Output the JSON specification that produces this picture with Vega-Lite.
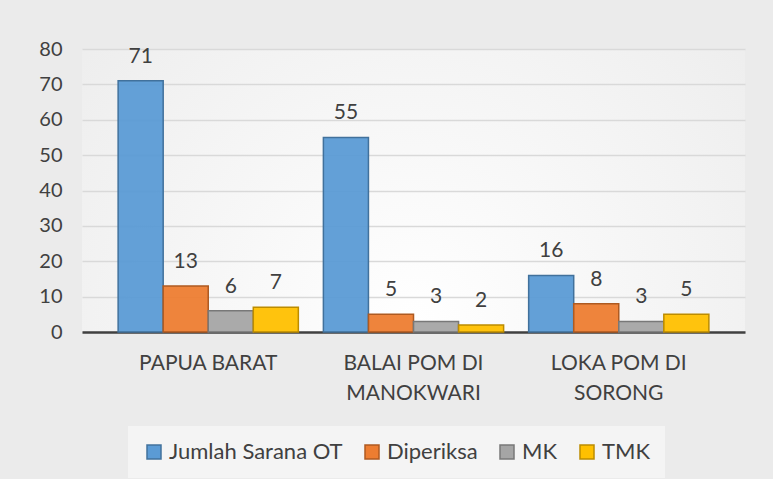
{
  "$schema": "https://vega.github.io/schema/vega-lite/v6.json",
  "autosize": "none",
  "width": 663,
  "height": 283,
  "padding": {"left": 82, "top": 49, "right": 28, "bottom": 147},
  "background": "#ebebeb",
  "config": {
    "font": "Lato",
    "view": {"stroke": null, "fill": {"gradient": "radial", "x1": 0.5, "y1": 0.7, "r1": 0, "x2": 0.5, "y2": 0.7, "r2": 0.75, "stops": [{"offset": 0, "color": "#ffffff"}, {"offset": 1, "color": "#ebebeb"}]}}
  },
  "data": {
    "values": [
      {"lokasi": "PAPUA BARAT", "seri": "Jumlah Sarana OT", "nilai": 71},
      {"lokasi": "PAPUA BARAT", "seri": "Diperiksa", "nilai": 13},
      {"lokasi": "PAPUA BARAT", "seri": "MK", "nilai": 6},
      {"lokasi": "PAPUA BARAT", "seri": "TMK", "nilai": 7},
      {"lokasi": "BALAI POM DI MANOKWARI", "seri": "Jumlah Sarana OT", "nilai": 55},
      {"lokasi": "BALAI POM DI MANOKWARI", "seri": "Diperiksa", "nilai": 5},
      {"lokasi": "BALAI POM DI MANOKWARI", "seri": "MK", "nilai": 3},
      {"lokasi": "BALAI POM DI MANOKWARI", "seri": "TMK", "nilai": 2},
      {"lokasi": "LOKA POM DI SORONG", "seri": "Jumlah Sarana OT", "nilai": 16},
      {"lokasi": "LOKA POM DI SORONG", "seri": "Diperiksa", "nilai": 8},
      {"lokasi": "LOKA POM DI SORONG", "seri": "MK", "nilai": 3},
      {"lokasi": "LOKA POM DI SORONG", "seri": "TMK", "nilai": 5}
    ]
  },
  "encoding": {
    "x": {
      "field": "lokasi", "type": "nominal", "sort": null, "title": null,
      "scale": {"paddingInner": 0.122, "paddingOuter": 0.176},
      "axis": {
        "labelAngle": 0, "labelFontSize": 21, "labelColor": "#404040", "labelPadding": 31,
        "labelLineHeight": 30, "labelBaseline": "middle", "labelLimit": 300,
        "labelExpr": "datum.value == 'BALAI POM DI MANOKWARI' ? ['BALAI POM DI', 'MANOKWARI'] : datum.value == 'LOKA POM DI SORONG' ? ['LOKA POM DI', 'SORONG'] : datum.value",
        "ticks": false, "domainColor": "#404040", "domainWidth": 2.5, "grid": false
      }
    },
    "xOffset": {"field": "seri", "type": "nominal", "sort": ["Jumlah Sarana OT", "Diperiksa", "MK", "TMK"]},
    "y": {
      "field": "nilai", "type": "quantitative", "title": null,
      "scale": {"domain": [0, 80], "nice": false},
      "axis": {"values": [0, 10, 20, 30, 40, 50, 60, 70, 80], "labelFontSize": 20, "labelColor": "#404040", "labelPadding": 20, "labelOverlap": false, "ticks": false, "domain": false, "gridColor": "#d9d9d9", "gridWidth": 1.5}
    }
  },
  "layer": [
    {
      "mark": {"type": "bar", "strokeWidth": 1.5, "fillOpacity": 0.95},
      "encoding": {
        "color": {
          "field": "seri", "type": "nominal", "sort": ["Jumlah Sarana OT", "Diperiksa", "MK", "TMK"],
          "scale": {"domain": ["Jumlah Sarana OT", "Diperiksa", "MK", "TMK"], "range": ["#5b9bd5", "#ed7d31", "#a5a5a5", "#ffc000"]},
          "legend": {
            "title": null, "orient": "none", "direction": "horizontal", "legendX": 46, "legendY": 377,
            "symbolType": "square", "symbolSize": 196, "symbolStrokeWidth": 1.5, "symbolOpacity": 1,
            "labelFontSize": 22, "labelColor": "#404040", "labelOffset": 4, "columnPadding": 18, "labelLimit": 400,
            "fillColor": "#f4f4f4", "padding": 15
          }
        },
        "stroke": {
          "field": "seri", "type": "nominal", "legend": null,
          "scale": {"domain": ["Jumlah Sarana OT", "Diperiksa", "MK", "TMK"], "range": ["#41719c", "#ae5a21", "#787878", "#bc8c00"]}
        }
      }
    },
    {
      "mark": {"type": "text", "baseline": "middle", "dy": -24, "fontSize": 21, "color": "#404040"},
      "encoding": {"text": {"field": "nilai", "type": "quantitative"}}
    }
  ]
}
